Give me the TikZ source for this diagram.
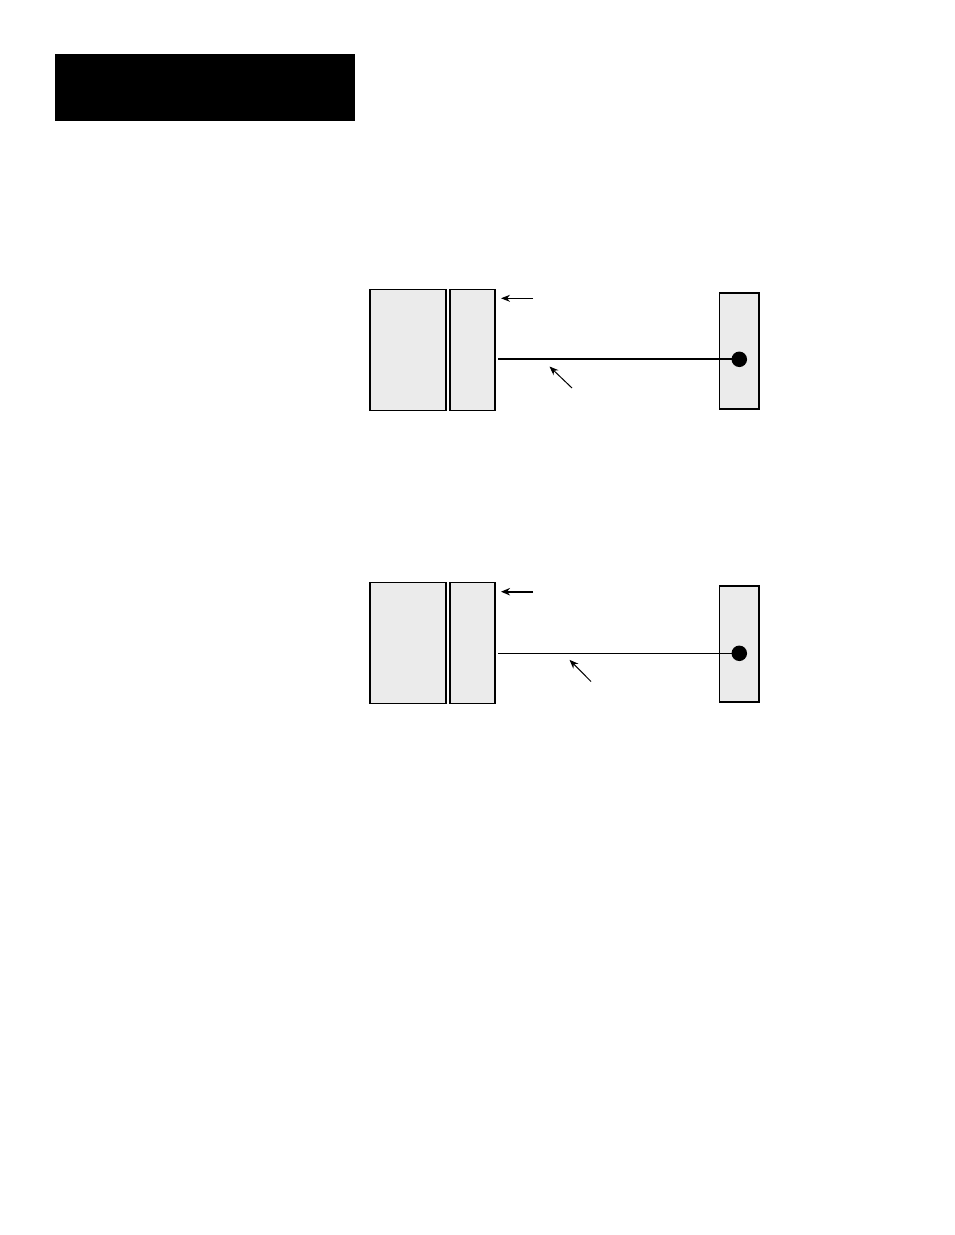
\documentclass[tikz,border=0pt]{standalone}
\usetikzlibrary{arrows.meta}
\tikzset{
  banner/.style={fill=black, draw=none, minimum width=300pt, minimum height=67pt, inner sep=0pt, outer sep=0pt},
  panel/.style={draw=black, line width=1.3pt, fill=black!8, inner sep=0pt, outer sep=0pt},
  plug/.style={circle, fill=black, draw=none, minimum size=15.5pt, inner sep=0pt},
  wire/.style={line width=2pt, draw=black},
  thinwire/.style={line width=1pt, draw=black},
  pointer/.style={-{Stealth[length=9pt, width=7pt]}, line width=1pt, draw=black},
  boldpointer/.style={-{Stealth[length=9pt, width=7.5pt]}, line width=1.8pt, draw=black}
}
\begin{document}
\begin{tikzpicture}[x=1pt, y=-1pt]
  \useasboundingbox (0,0) rectangle (954,1235);
  \node[banner] (title) at (205,87.5) {};

  % upper setup
  \node[panel, minimum width=76pt, minimum height=121pt] (chassisA) at (408,350) {};
  \node[panel, minimum width=45pt, minimum height=121pt] (moduleA) at (472.5,350) {};
  \node[panel, minimum width=39.5pt, minimum height=116pt] (deviceA) at (739.2,351) {};
  \node[plug] (dotA) at (739.3,359.3) {};
  \coordinate (portA) at (498,359.3);
  \coordinate (tagA) at (533,298.3);
  \coordinate (tipA) at (501,298.3);
  \coordinate (tagB) at (572,388);
  \coordinate (tipB) at (549.5,366.5);
  \draw[wire] (portA) -- (dotA.center);
  \draw[pointer] (tagA) -- (tipA);
  \draw[pointer] (tagB) -- (tipB);

  % lower setup
  \node[panel, minimum width=76pt, minimum height=121pt] (chassisB) at (408,643.2) {};
  \node[panel, minimum width=45pt, minimum height=121pt] (moduleB) at (472.5,643.2) {};
  \node[panel, minimum width=39.5pt, minimum height=116pt] (deviceB) at (739.2,644) {};
  \node[plug] (dotB) at (739.3,653.3) {};
  \coordinate (portB) at (498,653.3);
  \coordinate (tagC) at (533,591.7);
  \coordinate (tipC) at (501,591.7);
  \coordinate (tagD) at (591,681.5);
  \coordinate (tipD) at (569.5,659.8);
  \draw[thinwire] (portB) -- (dotB.center);
  \draw[boldpointer] (tagC) -- (tipC);
  \draw[pointer] (tagD) -- (tipD);
\end{tikzpicture}
\end{document}
